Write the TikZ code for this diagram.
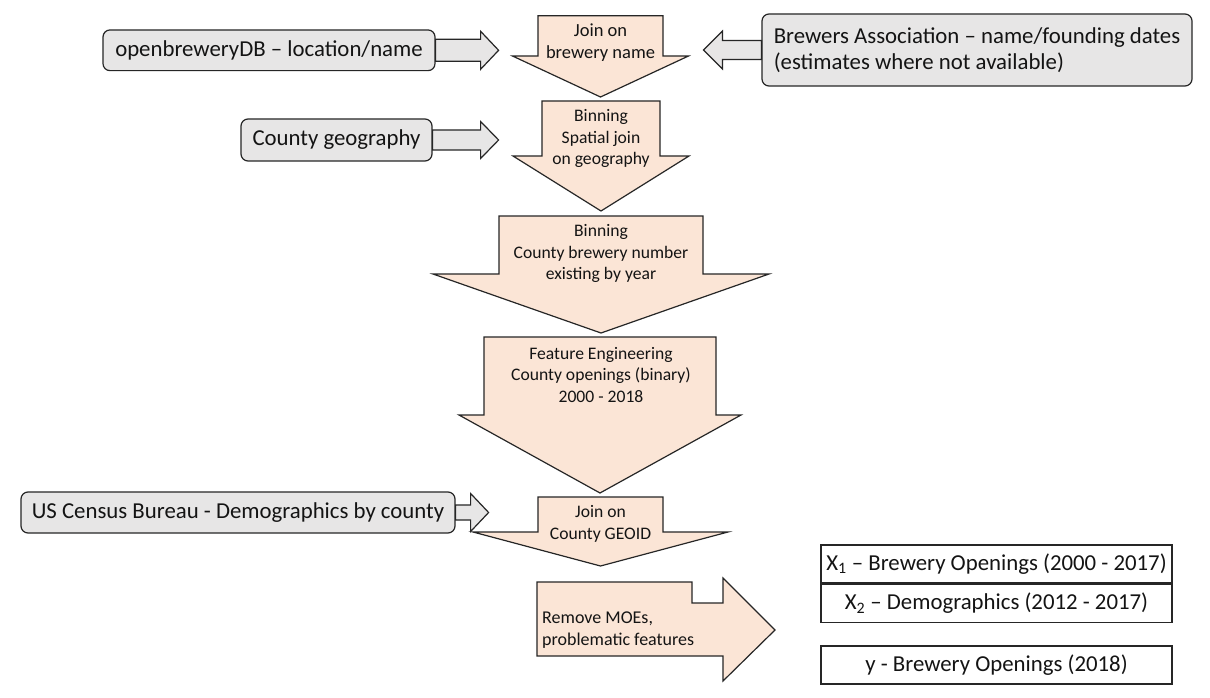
\documentclass[tikz,border=0pt]{standalone}
\usepackage{fontspec}
\setmainfont{Carlito}
\usetikzlibrary{calc}
\definecolor{peach}{HTML}{FBE5D6}
\definecolor{lgray}{HTML}{E7E6E6}
\definecolor{edge}{HTML}{262626}
\definecolor{ink}{HTML}{141414}
\newcommand\fsBig{\fontsize{22.8}{26.5}\selectfont}
\newcommand\fsSmall{\fontsize{17.6}{21.3}\selectfont}
\tikzset{
  gbox/.style={draw=edge, fill=lgray, rounded corners=7pt, line width=1.2pt,
    inner sep=0pt, text=ink, font=\fsBig},
  wbox/.style={draw=edge, fill=white, line width=1.2pt, inner sep=0pt,
    minimum width=351pt, text=ink, font=\fsBig},
  garrow/.style={draw=edge, fill=lgray, line width=1.2pt, line join=miter},
  parrow/.style={draw=edge, fill=peach, line width=1.2pt, line join=miter},
  ptext/.style={align=center, text=ink, font=\fsSmall, inner sep=0pt}
}
% right-pointing block arrow starting at a node anchor
\newcommand\gArrowR[5]{%
  \draw[garrow] (#1) ++(0,-#2) -- ++(#3,0) -- ++(0,#2-#4) -- ++(#5,#4)
    -- ++(-#5,#4) -- ++(0,#2-#4) -- ++(-#3,0) -- cycle;}
% down-pointing block arrow: cx, top, half shaft, head y, half head, tip y
\newcommand\pArrowD[6]{%
  \draw[parrow] (#1-#3,#2) -- (#1+#3,#2) -- (#1+#3,#4) -- (#1+#5,#4)
    -- (#1,#6) -- (#1-#5,#4) -- (#1-#3,#4) -- cycle;}
\begin{document}
\begin{tikzpicture}[x=1pt, y=-1pt]
\useasboundingbox (0,0) rectangle (1210,698);
\fill[white] (0,0) rectangle (1210,698);

% ---- peach process arrows
\pArrowD{600.5}{15.7}{62.5}{56}{88}{97}
\node[ptext, font=\fontsize{18.5}{21.5}\selectfont] (j1) at (600.5,42.5) {Join on\\brewery name};

\pArrowD{601}{101}{59}{156}{88}{211}
\node[ptext] (bin1) at (601,138.5) {Binning\\Spatial join\\on geography};

\pArrowD{601}{216}{102}{274}{168}{333}
\node[ptext] (bin2) at (601,253.5) {Binning\\County brewery number\\existing by year};

\pArrowD{600}{337}{116}{415}{141}{493}
\node[ptext] (fe) at (601,375) {Feature Engineering\\County openings (binary)\\2000 - 2018};

\pArrowD{600.5}{497}{62.5}{532}{127.5}{566}
\node[ptext, font=\fontsize{17.6}{22}\selectfont] (j2) at (600.5,524) {Join on\\County GEOID};

% bent arrow
\draw[parrow] (537,582) -- (692,582) -- (692,603) -- (723,603) -- (723,578)
  -- (775,630) -- (723,681) -- (723,656) -- (537,656) -- cycle;
\node[ptext, align=left, anchor=west, font=\fontsize{18}{21.5}\selectfont] (rm) at (542,630)
  {Remove MOEs,\\problematic features};

% ---- gray source boxes
\node[gbox, minimum width=332pt, minimum height=40.7pt] (ob) at (269,50.3)
  {openbreweryDB – location/name};
\node[gbox, minimum width=430pt, minimum height=72pt, align=left] (ba) at (977,50)
  {Brewers Association – name/founding dates\\(estimates where not available)};
\node[gbox, minimum width=191pt, minimum height=42pt] (cg) at (336.5,140)
  {County geography};
\node[gbox, minimum width=434pt, minimum height=41pt] (cb) at (238,512.5)
  {US Census Bureau - Demographics by county};

% ---- gray input arrows
\gArrowR{ob.east}{11}{45}{19}{18}
\gArrowR{cg.east}{10}{48}{18.5}{18}
\gArrowR{cb.east}{7.5}{15}{19}{18}
\draw[garrow] (ba.west) ++(0,-9.5) -- ++(-39,0) -- ++(0,-9.5) -- ++(-19,19)
  -- ++(19,19) -- ++(0,-9.5) -- ++(39,0) -- cycle;

% ---- output boxes
\node[wbox, minimum height=38pt] (x1) at (996.5,564)
  {X\textsubscript{1} – Brewery Openings (2000 - 2017)};
\node[wbox, minimum height=38.5pt] (x2) at (996.5,603.5)
  {X\textsubscript{2} – Demographics (2012 - 2017)};
\node[wbox, minimum height=38pt] (yb) at (996.5,665)
  {y - Brewery Openings (2018)};
\end{tikzpicture}
\end{document}
